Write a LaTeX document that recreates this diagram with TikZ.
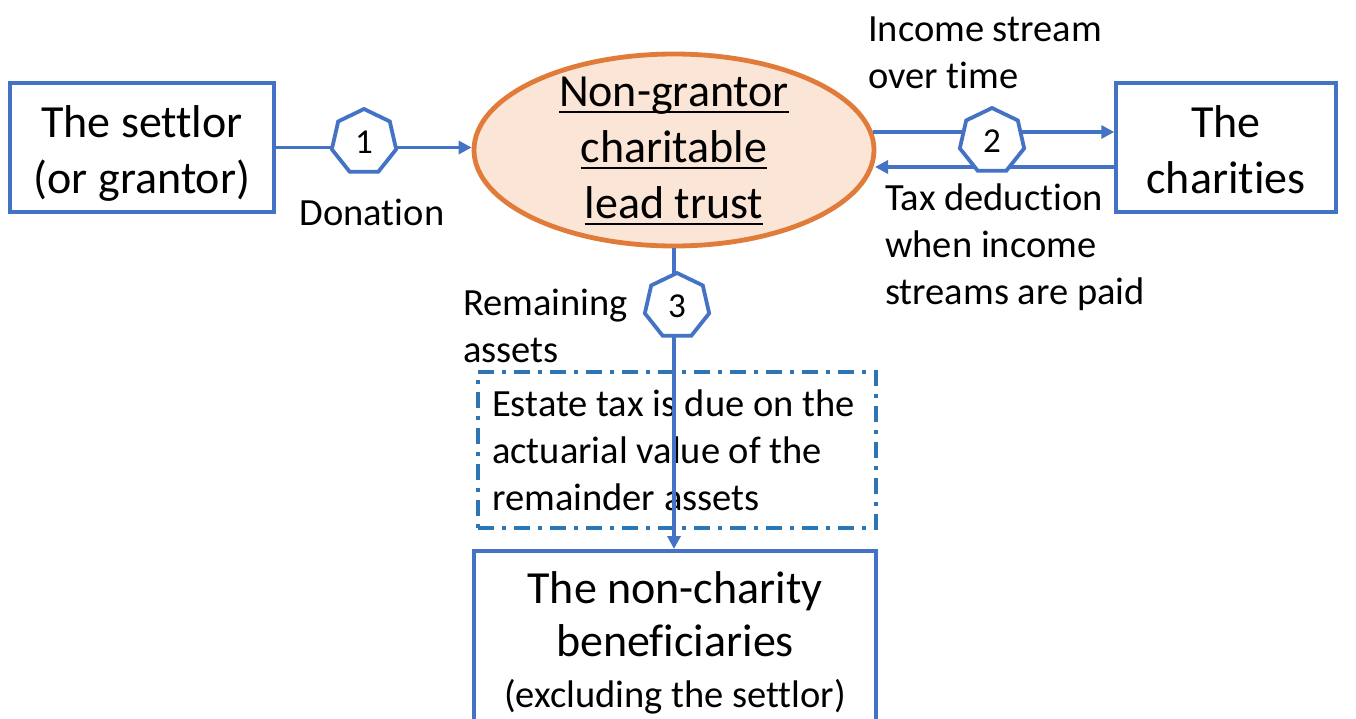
\documentclass[tikz,border=0pt]{standalone}
\usepackage{fontspec}
\setmainfont{Carlito}[Ligatures=CommonOff]
\usetikzlibrary{shapes.geometric,arrows.meta}
\definecolor{lnblue}{HTML}{4472C4}
\definecolor{dashblue}{HTML}{2E75B6}
\definecolor{trustorange}{HTML}{E07B39}
\definecolor{trustfill}{HTML}{FBE5D6}
\newcommand\ulin[1]{\setbox0=\hbox{#1}\rlap{\rule[-6pt]{\wd0}{2.2pt}}\box0}
\begin{document}
\begin{tikzpicture}[x=1pt,y=-1pt,
 bigtxt/.style={font=\fontsize{46}{56}\selectfont},
 lbl/.style={font=\fontsize{38.5}{47}\selectfont, inner sep=0, align=left, anchor=base west},
 box/.style={draw=lnblue, line width=3.5pt, inner sep=0},
 conn/.style={draw=lnblue, line width=3.5pt},
 arr/.style={conn, -{Triangle[length=13pt,width=13pt]}},
 hept/.style={regular polygon, regular polygon sides=7, minimum size=66pt, inner sep=0, draw=lnblue, line width=3.8pt, fill=white, font=\fontsize{35}{40}\selectfont}]
\path[use as bounding box] (0,0) rectangle (1356,718);
\clip (0,0) rectangle (1356,718);
% boxes
\node[box, minimum width=264pt, minimum height=129pt] (settlor) at (142,147.5) {};
\node[bigtxt, align=center, inner sep=0, anchor=base] (settlortext) at (142,193) {The settlor\\(or grantor)};
\node[box, minimum width=220pt, minimum height=129pt] (charities) at (1226,147.5) {};
\node[bigtxt, align=center, inner sep=0, anchor=base] (charitiestext) at (1226,193) {The\\charities};
\node[ellipse, draw=trustorange, line width=4.8pt, fill=trustfill, minimum width=400pt, minimum height=192pt, inner sep=0] (trust) at (674,150) {};
\node[bigtxt, align=center, inner sep=0] (trusttext) at (674,151) {\ulin{Non-grantor}\\\ulin{charitable}\\\ulin{lead trust}};
\node[box, minimum width=402pt, minimum height=190pt, anchor=north] (benef) at (675,549) {};
\node[inner sep=0, anchor=base, font=\fontsize{46}{53}\selectfont] (benef1) at (675,603) {The non-charity};
\node[inner sep=0, anchor=base, font=\fontsize{46}{53}\selectfont] (benef2) at (675,656) {beneficiaries};
\node[inner sep=0, anchor=base, font=\fontsize{38.5}{47}\selectfont] (benef3) at (675,707) {(excluding the settlor)};
% dashed box
\node[draw=dashblue, line width=3.5pt, dash pattern=on 16pt off 8pt on 4pt off 8pt, minimum width=398pt, minimum height=156pt, inner sep=0] (taxbox) at (677,450) {};
\node[lbl] (taxtext) at (492,510) {Estate tax is due on the\\actuarial value of the\\remainder assets};
% connectors
\draw[arr] (settlor.east) -- (settlor.east -| trust.west);
\node[hept] (h1) at (364,142) {1};
\coordinate (out2) at (873,132);
\coordinate (in2) at (875,167);
\draw[arr] (out2) -- (out2 -| charities.west);
\draw[arr] (in2 -| charities.west) -- (in2);
\node[hept] (h2) at (992,141) {2};
\draw[arr] (trust.south) -- (trust.south |- benef.north);
\node[hept] (h3) at (677,306) {3};
% labels
\node[lbl, anchor=base] (donation) at (372,225) {Donation};
\node[lbl] (income) at (868,88) {Income stream\\over time};
\node[lbl] (taxded) at (885,304) {Tax deduction\\when income\\streams are paid};
\node[lbl] (remain) at (463,362) {Remaining\\assets};
\end{tikzpicture}
\end{document}
